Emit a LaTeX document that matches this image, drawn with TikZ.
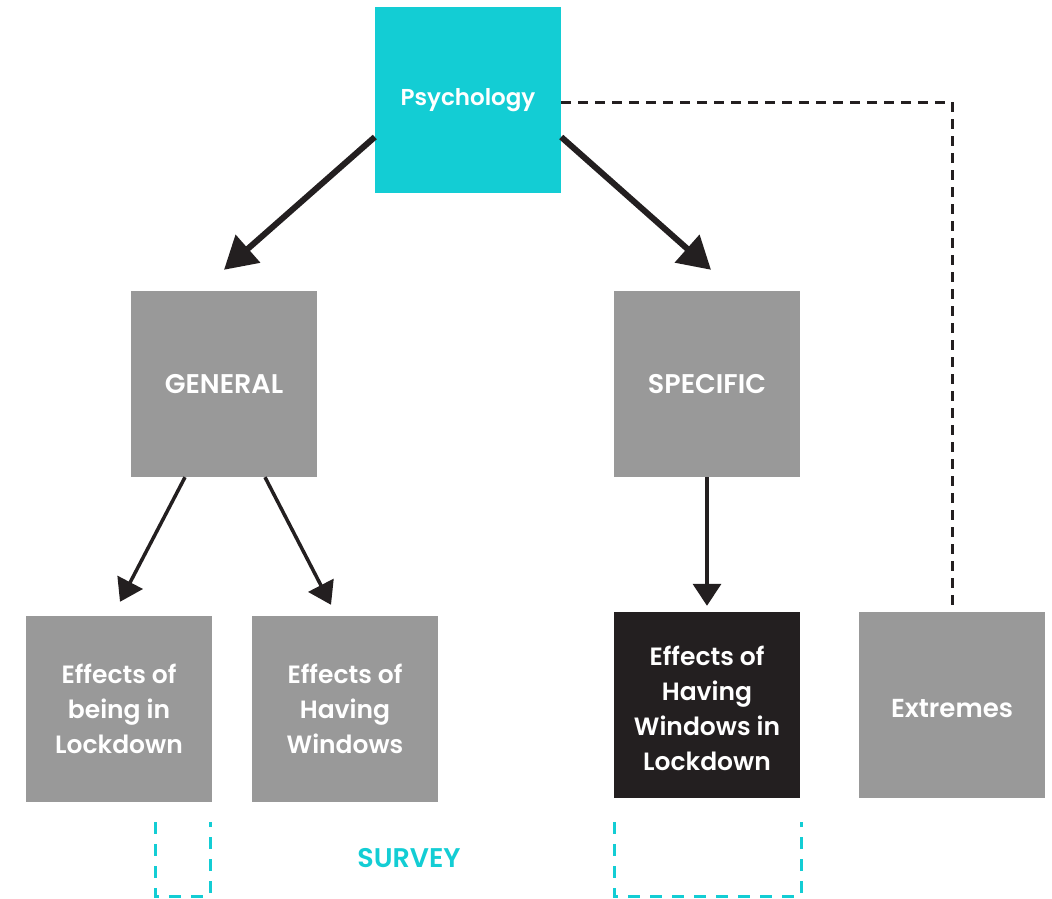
\documentclass[tikz,border=0pt]{standalone}
\usepackage{fontspec}
\setmainfont{Poppins}[UprightFont={* SemiBold}]
\usetikzlibrary{arrows.meta,calc}
\definecolor{psycyan}{HTML}{13CDD4}
\definecolor{boxgray}{HTML}{999999}
\definecolor{boxdark}{HTML}{231F20}
\begin{document}
\begin{tikzpicture}[x=1pt,y=-1pt,
  tile/.style={minimum width=186pt,minimum height=186pt,inner sep=0pt,
    text=white,align=center,font=\fontsize{25}{35}\selectfont},
  graytile/.style={tile,fill=boxgray},
  capstile/.style={graytile,font=\fontsize{27}{35}\selectfont},
  bigarrow/.style={draw=boxdark,line width=6pt,
    -{Triangle[length=32pt,width=36pt]}},
  smallarrow/.style={draw=boxdark,line width=3.5pt,
    -{Triangle[length=22pt,width=28pt]}},
  linkdash/.style={draw=boxdark,line width=3pt,dash pattern=on 10pt off 7pt},
  bracket/.style={draw=psycyan,line width=3pt,dash pattern=on 12pt off 10pt}]
\useasboundingbox (0,0) rectangle (1052,899);

% top level
\node[tile,fill=psycyan,font=\fontsize{23}{35}\selectfont] (psy) at (468,100) {Psychology};

% second level
\node[capstile] (gen) at (224,384) {GENERAL};
\node[capstile] (spec) at (707,384) {SPECIFIC};

% third level
\node[graytile] (lock) at (119,709) {Effects of\\being in\\Lockdown};
\node[graytile] (win) at (345,709) {Effects of\\Having\\Windows};
\node[tile,fill=boxdark] (both) at (707,705)
  {\rule{0pt}{26pt}Effects of\\Having\\Windows in\\Lockdown};
\node[graytile,font=\fontsize{26}{35}\selectfont] (ext) at (952,705)
  {\rule{0pt}{25pt}Extremes};

% survey label
\node[text=psycyan,font=\fontsize{27}{30}\selectfont] (survey) at (409,858) {SURVEY};

% arrows
\draw[bigarrow] ([yshift=-37pt]psy.west) -- ([yshift=21pt]gen.north);
\draw[bigarrow] ([yshift=-37pt]psy.east) -- ([xshift=4pt,yshift=21pt]spec.north);
\draw[smallarrow] ([xshift=-39pt]gen.south) -- ([xshift=1pt,yshift=14pt]lock.north);
\draw[smallarrow] ([xshift=41pt]gen.south) -- ([xshift=-14pt,yshift=11pt]win.north);
\draw[smallarrow] (spec.south) -- ([yshift=6pt]both.north);

% dashed link to extremes
\coordinate (bend) at (ext.north |- psy.east);
\draw[linkdash] ([yshift=-2pt]psy.east) -- ([yshift=-2pt]bend) -- (ext.north);

% open brackets under the third level
\coordinate (la) at (155,822);
\coordinate (lb) at (155,896);
\coordinate (lc) at (210,896);
\coordinate (ld) at (210,822);
\draw[bracket] (la) -- (lb) -- (lc) -- (ld);
\coordinate (ra) at (614,822);
\coordinate (rb) at (614,896);
\coordinate (rc) at (801,896);
\coordinate (rd) at (801,822);
\draw[bracket] (ra) -- (rb) -- (rc) -- (rd);
\end{tikzpicture}
\end{document}
